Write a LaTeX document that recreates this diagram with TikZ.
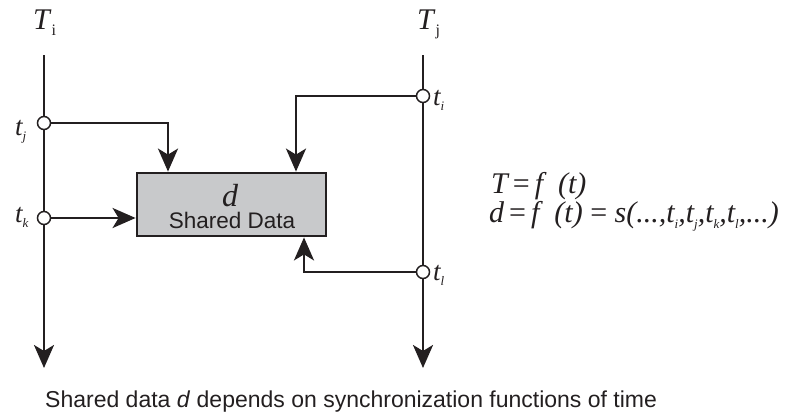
\documentclass[tikz,border=0pt]{standalone}
\usepackage{fontspec}
\setmainfont{Liberation Serif}
\newfontfamily\capfont{Liberation Sans}
\usetikzlibrary{arrows.meta}

\definecolor{ink}{HTML}{231F20}
\definecolor{boxgray}{HTML}{C8C9CB}

% small lowered index used for t_i, t_j, ...
\newcommand\idx[2]{\raisebox{-0.2em}{\fontsize{#2}{#2}\selectfont #1}}

\begin{document}
\begin{tikzpicture}[x=1pt,y=-1pt,
  timeline/.style={draw=ink, line width=2.6pt,
    -{Stealth[length=23pt,width=20pt,inset=6pt]}},
  conn/.style={draw=ink, line width=2.6pt,
    -{Stealth[length=23pt,width=20pt,inset=6pt]}},
  tick/.style={circle, draw=ink, fill=white, line width=1.5pt,
    minimum size=13pt, inner sep=0pt},
  databox/.style={draw=ink, line width=2.8pt, fill=boxgray,
    minimum width=189pt, minimum height=63pt, inner sep=0pt},
  lbl/.style={anchor=base west, inner sep=0pt, text=ink,
    font=\fontsize{27}{27}\selectfont\itshape},
]
\useasboundingbox (0,0) rectangle (788,415);

% the two time axes
\coordinate (ltop) at (44,55);
\coordinate (lbot) at (44,368);
\coordinate (rtop) at (423,55);
\coordinate (rbot) at (423,368);
\draw[timeline] (ltop) -- (lbot);
\draw[timeline] (rtop) -- (rbot);

% shared data block
\node[databox] (box) at (231.5,204.5) {};
\node[anchor=base, inner sep=0pt, text=ink, text depth=0pt,
  font=\fontsize{32}{32}\selectfont\itshape] (dsym) at (230,206) {d};
\node[anchor=base, inner sep=0pt, text=ink, text height=15pt,
  font=\capfont\fontsize{22.5}{22.5}\selectfont] (dname) at (232,228) {Shared Data};

% synchronization points
\node[tick] (cj) at (44,123) {};
\node[tick] (ck) at (44,218) {};
\node[tick] (ci) at (423,96) {};
\node[tick] (cl) at (423,272) {};

% connectors into the block
\coordinate (jx) at (168,0);
\coordinate (ix) at (296,0);
\coordinate (lx) at (304,0);
\draw[conn] (cj.east) -| (jx |- box.north);
\draw[conn] (ck.east) -- (ck -| box.west);
\draw[conn] (ci.west) -| (ix |- box.north);
\draw[conn] (cl.west) -| (lx |- box.south);

% axis names
\node[lbl, font=\fontsize{30}{30}\selectfont] (Ti) at (33,30) {\textit{T}\idx{i}{16}};
\node[lbl, font=\fontsize{30}{30}\selectfont] (Tj) at (417,30) {\textit{T}\idx{j}{16}};

% point labels
\node[lbl] (tj) at (15,135) {t\idx{j}{13}};
\node[lbl] (tk) at (15,222) {t\idx{k}{13}};
\node[lbl] (ti) at (433,105) {t\idx{i}{13}};
\node[lbl] (tl) at (433,280) {t\idx{l}{13}};

% relations
\node[lbl, font=\fontsize{30}{30}\selectfont\itshape] (eq1) at (491,193)
  {T\,{\upshape=}\,f\ \ (t)};
\node[lbl, font=\fontsize{30}{30}\selectfont\itshape] (eq2) at (489,222)
  {d\,{\upshape=}\,f\ \ (t) {\upshape=} s(...,t\idx{i}{13},t\idx{j}{13},t\idx{k}{13},t\idx{l}{13},...)};

% caption
\node[anchor=base west, inner sep=0pt, text=ink,
  font=\capfont\fontsize{23}{23}\selectfont] (cap) at (45,407)
  {Shared data \textit{d} depends on synchronization functions of time};
\end{tikzpicture}
\end{document}
